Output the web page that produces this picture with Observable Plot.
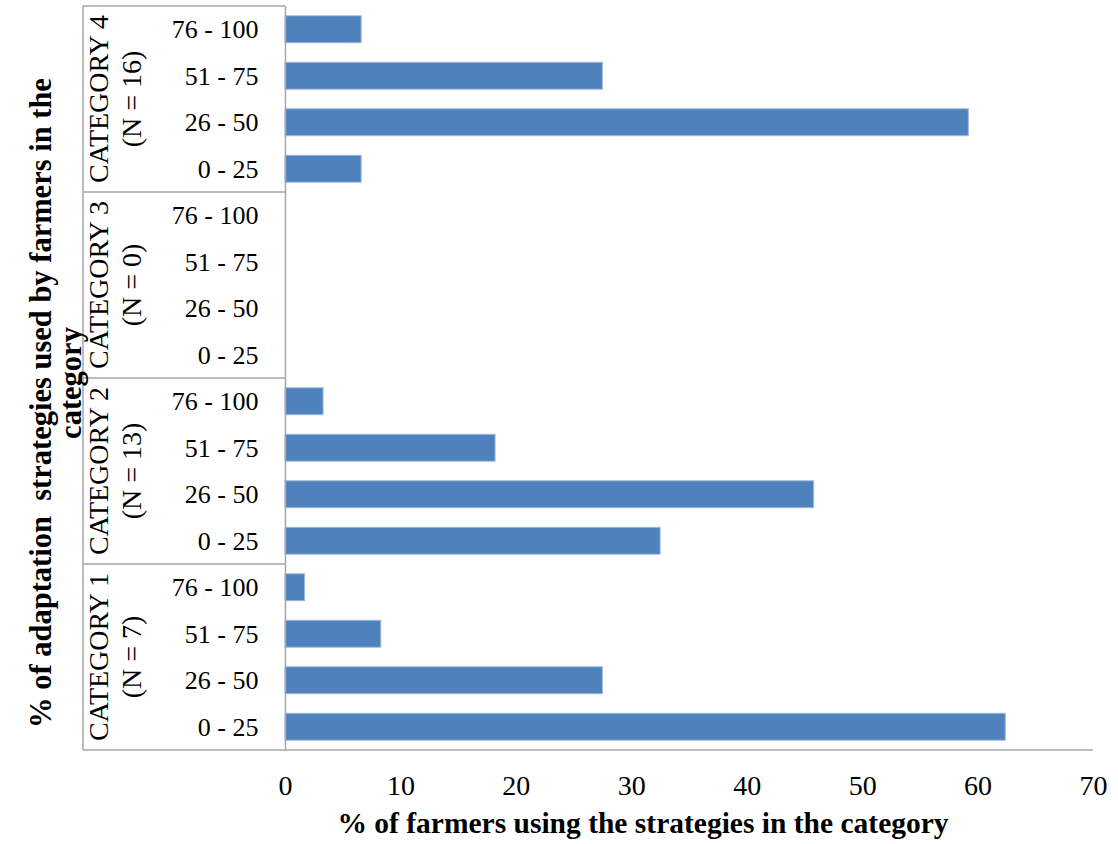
<!DOCTYPE html>
<html>
<head>
<meta charset="utf-8">
<script src="https://cdn.jsdelivr.net/npm/d3@7"></script>
<script src="https://cdn.jsdelivr.net/npm/@observablehq/plot@0.6"></script>
<style>
  html, body { margin: 0; padding: 0; background: #fff; overflow: hidden; }
  svg text { white-space: pre; }
</style>
</head>
<body>
<div id="chart"></div>
<script>
// Category groups, top to bottom, with their sample sizes
const groups = ["CATEGORY 4", "CATEGORY 3", "CATEGORY 2", "CATEGORY 1"];
const groupN = ["(N = 16)", "(N = 0)", "(N = 13)", "(N = 7)"];
// Share of strategies used (%), top to bottom within each group
const ranges = ["76 - 100", "51 - 75", "26 - 50", "0 - 25"];
// % of farmers in each group, in the order of `ranges`
const cat4 = [6.6, 27.5, 59.2, 6.6];
const cat3 = [0, 0, 0, 0];
const cat2 = [3.3, 18.2, 45.8, 32.5];
const cat1 = [1.7, 8.3, 27.5, 62.4];
const xTicks = [0, 10, 20, 30, 40, 50, 60, 70];

const xTitle = "% of farmers using the strategies in the category";
const yTitle = ["% of adaptation  strategies used by farmers in the", "category"];

const seriesByGroup = [cat4, cat3, cat2, cat1];
const key = (g, r) => g + "|" + r;
const rows = [];
groups.forEach((g, gi) => {
  ranges.forEach((r, ri) => {
    rows.push({group: g, range: r, key: key(g, r), value: seriesByGroup[gi][ri]});
  });
});

const serif = "'Liberation Serif', 'Times New Roman', serif";
const lineColor = "#a6a6a6";

// Multi-level category boxes on the left of the y axis
function groupBoxes(index, scales, values, dims) {
  const y = scales.y;
  const bw = typeof y.bandwidth === "function" ? y.bandwidth()
    : (scales.scales && scales.scales.y && scales.scales.y.bandwidth) || 0;
  const top = dims.marginTop;
  const bottom = dims.height - dims.marginBottom;
  const boxLeft = 83;
  const boxRight = dims.marginLeft;
  const bounds = [top];
  for (let i = 0; i < groups.length - 1; i++) {
    const a = y(key(groups[i], ranges[ranges.length - 1]));
    const b = y(key(groups[i + 1], ranges[0]));
    bounds.push((a + bw + b) / 2);
  }
  bounds.push(bottom);

  const g = d3.create("svg:g");
  g.append("line")
    .attr("x1", boxLeft).attr("x2", boxLeft)
    .attr("y1", top).attr("y2", bottom)
    .attr("stroke", lineColor).attr("stroke-width", 1.5);
  g.selectAll("line.sep").data(bounds.slice(0, -1)).join("line")
    .attr("class", "sep")
    .attr("x1", boxLeft).attr("x2", boxRight)
    .attr("y1", d => d).attr("y2", d => d)
    .attr("stroke", lineColor).attr("stroke-width", 1.5);
  // bottom axis line runs under the boxes too
  g.append("line")
    .attr("x1", boxLeft).attr("x2", dims.width - dims.marginRight)
    .attr("y1", bottom).attr("y2", bottom)
    .attr("stroke", lineColor).attr("stroke-width", 1.5);

  groups.forEach((name, i) => {
    const cy = (bounds[i] + bounds[i + 1]) / 2;
    g.append("text")
      .attr("transform", `translate(108,${cy}) rotate(-90)`)
      .attr("text-anchor", "middle")
      .attr("font-family", serif)
      .attr("font-size", 28)
      .attr("fill", "#000")
      .text(name);
    g.append("text")
      .attr("transform", `translate(141,${cy}) rotate(-90)`)
      .attr("text-anchor", "middle")
      .attr("font-family", serif)
      .attr("font-size", 28)
      .attr("fill", "#000")
      .text(groupN[i]);
  });
  return g.node();
}

// Axis titles
function titles(index, scales, values, dims) {
  const g = d3.create("svg:g")
    .attr("font-family", serif)
    .attr("font-weight", "bold")
    .attr("fill", "#000");
  g.append("text")
    .attr("x", 643).attr("y", 833)
    .attr("text-anchor", "middle")
    .attr("font-size", 29.5)
    .text(xTitle);
  g.append("text")
    .attr("transform", "translate(51,403) rotate(-90)")
    .attr("text-anchor", "middle")
    .attr("font-size", 30.5)
    .text(yTitle[0]);
  g.append("text")
    .attr("transform", "translate(81,383) rotate(-90)")
    .attr("text-anchor", "middle")
    .attr("font-size", 30.5)
    .text(yTitle[1]);
  return g.node();
}

const chart = Plot.plot({
  width: 1118,
  height: 844,
  marginLeft: 285,
  marginRight: 25,
  marginTop: 6,
  marginBottom: 94,
  style: {fontFamily: serif, fontSize: "26px", color: "#000", background: "#fff", overflow: "visible"},
  x: {domain: [0, 70]},
  y: {type: "band", domain: rows.map(d => d.key), paddingInner: 0.42, paddingOuter: 0.21, round: false},
  marks: [
    Plot.barX(rows.filter(d => d.value > 0), {
      x: "value", y: "key",
      fill: "#4f81bd", stroke: "#a3bddd", strokeWidth: 1
    }),
    Plot.ruleX([0], {stroke: lineColor, strokeWidth: 1.5}),
    Plot.axisX({ticks: xTicks, tickSize: 0, tickPadding: 25, fontSize: 28, label: null}),
    Plot.axisY({tickSize: 0, tickPadding: 27, fontSize: 26, label: null,
      tickFormat: k => k.split("|")[1]}),
    groupBoxes,
    titles
  ]
});

document.getElementById("chart").appendChild(chart);
</script>
</body>
</html>
